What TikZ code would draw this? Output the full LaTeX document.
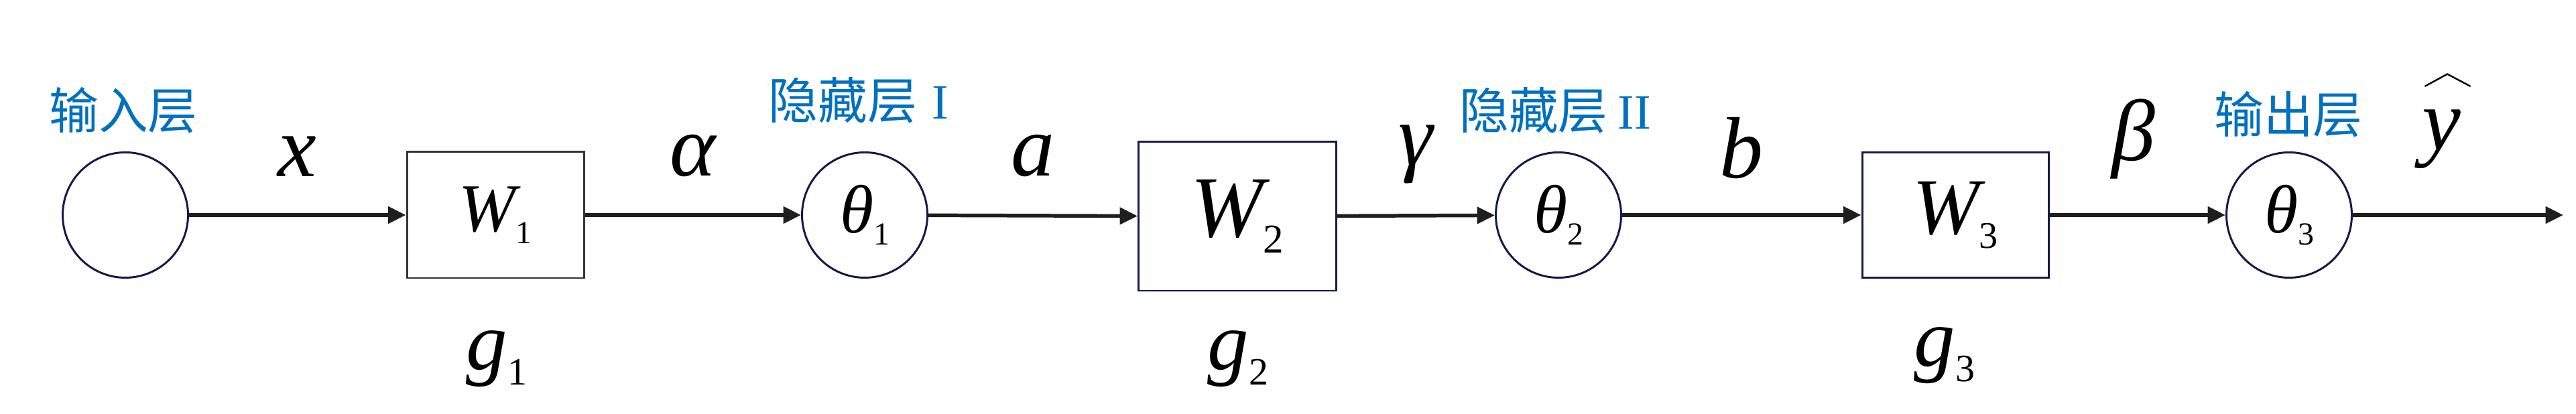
\documentclass[tikz,border=0pt]{standalone}
\usepackage{fontspec}
\usepackage{graphicx}
\setmainfont{Liberation Serif}
\newfontfamily\cjk{Noto Sans CJK SC}
\usetikzlibrary{arrows.meta,calc}
\definecolor{layerblue}{RGB}{0,112,192}
\definecolor{edgenavy}{RGB}{20,26,74}
\newcommand\lowsub[1]{\raisebox{-0.18em}{\scalebox{0.47}{\upshape #1}}}

\begin{document}
\begin{tikzpicture}[
  unit/.style={circle, draw=edgenavy, line width=0.85pt, minimum size=1.87cm, inner sep=0pt, font=\fontsize{29}{30}\selectfont\itshape},
  wbox/.style={draw=edgenavy, line width=0.85pt, inner sep=0pt, font=\fontsize{34}{36}\selectfont\itshape},
  layer/.style={text=layerblue, inner sep=0pt, font=\fontsize{21}{22}\selectfont\cjk},
  sym/.style={inner sep=0pt, font=\fontsize{37}{40}\selectfont\itshape},
  elab/.style={sym, anchor=base, yshift=#1},
  elab/.default=0.57cm,
  arrow/.style={-{Triangle[length=7.5pt,width=7pt]}, line width=1.56pt, draw=black!88},
  hatline/.style={line width=0.7pt, line cap=round}
]
\useasboundingbox (0,0) rectangle (38.43,6.18);
% 主干:输入单元、三组权重框与激活单元,沿同一水平线排列
\node[unit] (in) at (1.87,2.97) {};
\node[wbox, draw=black!80, minimum width=2.64cm, minimum height=1.88cm, font=\fontsize{29}{30}\selectfont\itshape] (w1) at (7.39,2.97) {W\lowsub{1}};
\node[unit] (t1) at (12.90,2.97) {θ\lowsub{1}};
\node[wbox, minimum width=2.95cm, minimum height=2.22cm, font=\fontsize{37}{40}\selectfont\itshape] (w2) at (18.46,2.95) {W\lowsub{2}};
\node[unit] (t2) at (23.25,2.97) {θ\lowsub{2}};
\node[wbox, minimum width=2.78cm, minimum height=1.87cm] (w3) at (29.17,2.97) {W\lowsub{3}};
\node[unit] (t3) at (34.15,2.97) {θ\lowsub{3}};
\coordinate (out) at (38.24,2.97);
% 层名:蓝色中文,位于各单元上方
\node[layer] (lin) at ($(in.center)+(-0.03,1.56)$) {输入层};
\node[layer] (lh1) at ($(t1.center)+(-0.09,1.71)$) {隐藏层\hspace{0.3em}{\rmfamily I}};
\node[layer] (lh2) at ($(t2.center)+(-0.05,1.56)$) {隐藏层\hspace{0.2em}{\rmfamily II}};
\node[layer] (lout) at ($(t3.center)+(-0.01,1.50)$) {输出层};
% 函数名:各权重框下方
\node[sym, anchor=base, font=\fontsize{35}{38}\selectfont\itshape] (g1) at ($(w1.center)+(0.02,-2.31)$) {g\lowsub{1}};
\node[sym, anchor=base, font=\fontsize{35}{38}\selectfont\itshape] (g2) at ($(w2.center)+(0.01,-2.29)$) {g\lowsub{2}};
\node[sym, anchor=base, font=\fontsize{35}{38}\selectfont\itshape] (g3) at ($(w3.center)+(-0.16,-2.26)$) {g\lowsub{3}};
% 箭头与变量名
\draw[arrow] (in) -- node[elab]{x} (w1);
\draw[arrow] (w1) -- node[elab=0.58cm]{α} (t1);
\draw[arrow] (t1) -- node[elab=0.59cm]{a} (w2);
\draw[arrow] (w2) -- node[elab=0.75cm]{γ} (t2);
\draw[arrow] (t2) -- node[elab=0.55cm]{b} (w3);
\draw[arrow] (w3) -- node[elab=0.81cm, xshift=-0.06cm]{β} (t3);
\draw[arrow] (t3) -- node[elab=0.97cm, xshift=-0.25cm] (yh) {y} (out);
\draw[hatline] ([xshift=-0.24cm,yshift=0.33cm]yh.north) -- ++(0.33,0.18) -- ++(0.34,-0.18);
\end{tikzpicture}
\end{document}
